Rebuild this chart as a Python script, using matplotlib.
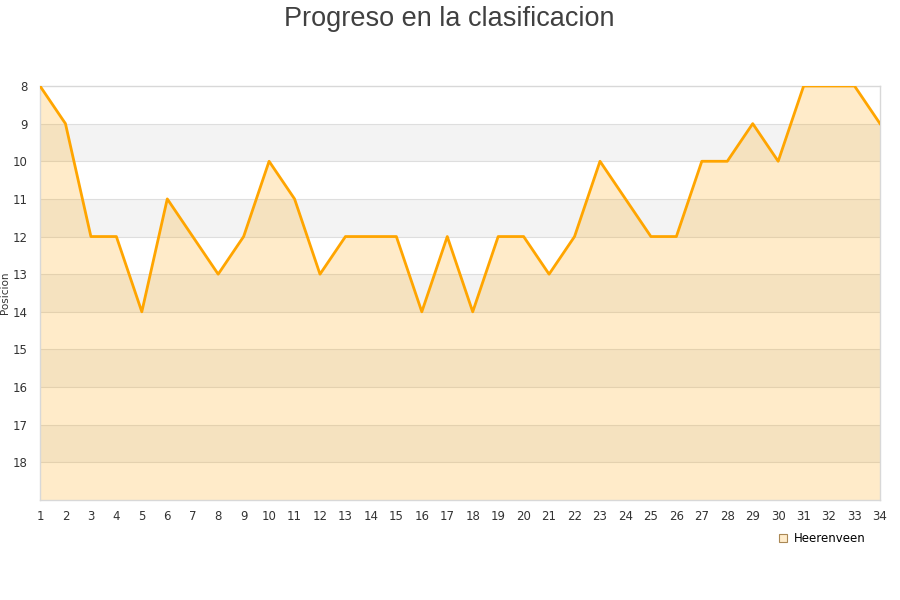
import numpy as np
import matplotlib.pyplot as plt
from matplotlib.lines import Line2D

# Datos
jornadas = list(range(1, 35))
posiciones = [8, 9, 12, 12, 14, 11, 12, 13, 12, 10, 11, 13, 12, 12, 12, 14, 12, 14,
              12, 12, 13, 12, 10, 11, 12, 12, 10, 10, 9, 10, 8, 8, 8, 9]
equipo = 'Heerenveen'
y_ticks = list(range(8, 19))

fig = plt.figure(figsize=(9, 6), dpi=100)
ax = fig.add_axes([40/900, 100/600, 840/900, 414/600])

# bandas alternas
for k in range(8, 19):
    if (k - 8) % 2 == 1:
        ax.axhspan(k, k + 1, color='#f3f3f3', zorder=0, lw=0)
for k in range(9, 19):
    ax.axhline(k, color='#dedede', lw=0.8, zorder=1)

ax.fill_between(jornadas, posiciones, 19, color='#ffa500', alpha=0.21, lw=0, zorder=2)
ax.plot(jornadas, posiciones, color='#ffa500', lw=2, zorder=3)

ax.set_xlim(1, 34)
ax.set_ylim(19, 8)
ax.set_xticks(jornadas)
ax.set_yticks(y_ticks)
ax.tick_params(axis='both', length=0, labelsize=8.5, colors='#333333')
ax.tick_params(axis='x', pad=7)
ax.tick_params(axis='y', pad=9)
for s in ax.spines.values():
    s.set_color('#d8d8d8')
    s.set_linewidth(1)
ax.set_ylabel('Posicion', fontsize=7.5, color='#333333')
ax.yaxis.set_label_coords(-30/840, 0.5)

fig.suptitle('Progreso en la clasificacion', x=0.499, y=0.99, va='top',
             fontsize=19.5, color='#404040', family='Liberation Sans')

h = Line2D([], [], marker='s', ls='none', markersize=6, markerfacecolor='#ffeccb',
           markeredgecolor='#aa8855', markeredgewidth=0.8)
ax.legend([h], [equipo], loc='upper right', bbox_to_anchor=(0.988, -0.065),
          frameon=False, fontsize=8.5, handletextpad=0.1, handlelength=1.5,
          borderaxespad=0)

fig.savefig('out.png', dpi=100)
